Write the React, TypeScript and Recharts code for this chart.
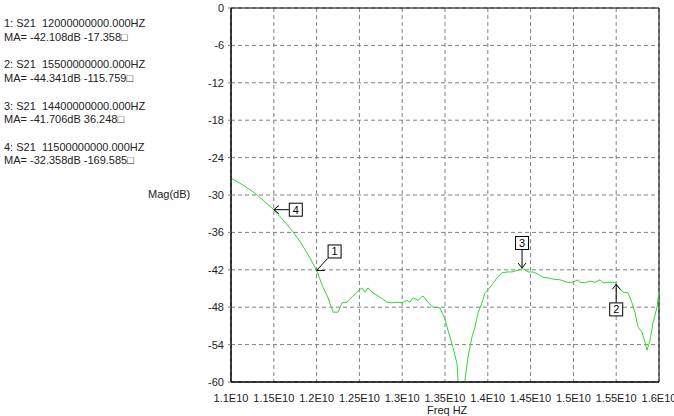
import { LineChart, Line, CartesianGrid, XAxis, YAxis, ReferenceDot, ReferenceArea } from 'recharts';

// frequency in units of 1E10 Hz, magnitude in dB
const freqs = [
    1.1, 1.114, 1.128, 1.1397, 1.15, 1.1607, 1.1724, 1.1818, 1.1923, 1.2,
    1.2075, 1.2133, 1.2192, 1.225, 1.2297, 1.2355, 1.2414, 1.2472, 1.253, 1.2565,
    1.26, 1.2659, 1.2741, 1.2822, 1.2881, 1.2939, 1.2998, 1.3056, 1.3091, 1.3126,
    1.3185, 1.3243, 1.3301, 1.336, 1.3442, 1.35, 1.3535, 1.3594, 1.364, 1.3655,
    1.369, 1.3725, 1.3769, 1.3815, 1.385, 1.3886, 1.3932, 1.3967, 1.4002, 1.4049,
    1.4107, 1.4166, 1.4224, 1.4283, 1.4318, 1.4376, 1.44, 1.447, 1.4528, 1.4587,
    1.4645, 1.4703, 1.4762, 1.4843, 1.4925, 1.4995, 1.5054, 1.5077, 1.5136, 1.5194,
    1.5252, 1.5311, 1.5346, 1.5404, 1.5486, 1.55, 1.5579, 1.5638, 1.5684, 1.572,
    1.5755, 1.5801, 1.5836, 1.586, 1.5895, 1.593, 1.5977, 1.6,
];
const mags = [
    -27.3, -28.4, -29.7, -31.1, -32.36, -34.0, -35.9, -37.7, -40.1, -42.1,
    -44.8, -46.5, -48.8, -48.8, -47.3, -47.2, -46.4, -45.6, -44.9, -45.6,
    -44.9, -45.7, -46.4, -47.2, -47.3, -47.2, -47.3, -46.9, -47.2, -46.5,
    -46.9, -46.2, -47.2, -48.0, -48.1, -50.0, -51.7, -54.5, -57.0, -60.5,
    -63.0, -60.5, -56.0, -52.8, -51.2, -48.9, -47.3, -45.7, -45.2, -44.4,
    -43.3, -42.5, -42.35, -42.35, -42.2, -42.0, -41.7, -42.35, -42.35, -42.7,
    -43.2, -43.3, -43.5, -43.6, -44.0, -44.0, -43.6, -44.0, -44.1, -43.8,
    -44.0, -43.6, -44.1, -44.0, -44.0, -44.34, -45.6, -45.7, -47.3, -48.9,
    -51.2, -52.0, -53.6, -54.9, -53.3, -50.5, -48.0, -45.4,
];

const xTicks = [1.1, 1.15, 1.2, 1.25, 1.3, 1.35, 1.4, 1.45, 1.5, 1.55, 1.6];
const xTickLabels = ['1.1E10', '1.15E10', '1.2E10', '1.25E10', '1.3E10', '1.35E10', '1.4E10', '1.45E10', '1.5E10', '1.55E10', '1.6E10'];
const yTicks = [0, -6, -12, -18, -24, -30, -36, -42, -48, -54, -60];

// markers
const markerIds = [1, 2, 3, 4];
const markerFreqs = [1.2, 1.55, 1.44, 1.15];
const markerMags = [-42.108, -44.341, -41.706, -32.358];
const markerPhases = [-17.358, -115.759, 36.248, -169.585];
const markerStyles = ['diag', 'up', 'down', 'left'];

const data = freqs.map((f, i) => ({ f, mag: mags[i] }));

const FONT = '"Liberation Sans", Arial, sans-serif';

function MarkerShape(props: any) {
    const { cx, cy, id, kind } = props;
    const s = 14;
    let bx = 0, by = 0;
    const lines: any[] = [];
    if (kind === 'left') {
        bx = cx + 15; by = cy - 7;
        lines.push([cx, cy, bx, cy], [cx, cy, cx + 5, cy - 4], [cx, cy, cx + 5, cy + 4]);
    } else if (kind === 'diag') {
        bx = cx + 11; by = cy - 26;
        lines.push([cx, cy, bx, by + s], [cx, cy, cx + 8, cy]);
    } else if (kind === 'down') {
        bx = cx - 7; by = cy - 32;
        lines.push([cx, by + s, cx, cy], [cx, cy, cx - 4, cy - 5], [cx, cy, cx + 4, cy - 5]);
    } else {
        bx = cx - 7; by = cy + 18;
        lines.push([cx, by, cx, cy], [cx, cy, cx - 4, cy + 5], [cx, cy, cx + 4, cy + 5]);
    }
    return (
        <g>
            {lines.map((l, i) => (
                <line key={i} x1={l[0]} y1={l[1]} x2={l[2]} y2={l[3]} stroke="#000" strokeWidth={1} />
            ))}
            <rect x={bx + 0.5} y={by + 0.5} width={s - 1} height={s - 1} fill="#fff" stroke="#000" strokeWidth={1} />
            <text x={bx + s / 2} y={by + s / 2 + 4} textAnchor="middle" fontSize={11} fontFamily={FONT} fill="#000">{id}</text>
        </g>
    );
}

export default function App() {
    return (
        <div style={{ position: 'fixed', left: 0, top: 0, width: 674, height: 416, background: '#fff', fontFamily: FONT }}>
            {markerIds.map((id, i) => (
                <div key={id}>
                    <div style={{ position: 'absolute', left: 4, top: 17 + i * 41.3, fontSize: 11, color: '#222', whiteSpace: 'pre' }}>
                        {`${id}: S21  ${Math.round(markerFreqs[i] * 1e10)}.000HZ`}
                    </div>
                    <div style={{ position: 'absolute', left: 4, top: 30.5 + i * 41.3, fontSize: 11, color: '#222', whiteSpace: 'pre' }}>
                        {`MA= ${markerMags[i].toFixed(3)}dB ${markerPhases[i].toFixed(3)}\u25A1`}
                    </div>
                </div>
            ))}
            <div style={{ position: 'absolute', left: 148, top: 188, fontSize: 11, color: '#222' }}>Mag(dB)</div>
            <div style={{ position: 'absolute', left: 427, top: 404, fontSize: 11, color: '#222' }}>Freq HZ</div>
            <LineChart width={674} height={416} data={data} margin={{ top: 8, right: 15, bottom: 0, left: 0 }}>
                <CartesianGrid strokeDasharray="4 3" stroke="#808080" />
                <XAxis
                    dataKey="f"
                    type="number"
                    domain={[1.1, 1.6]}
                    ticks={xTicks}
                    tickFormatter={(v: number) => xTickLabels[xTicks.indexOf(v)] ?? ''}
                    height={34}
                    tickLine={false}
                    tickMargin={6}
                    axisLine={{ stroke: '#000' }}
                    tick={{ fontSize: 11, fill: '#222', fontFamily: FONT }}
                    interval={0}
                />
                <YAxis
                    type="number"
                    domain={[-60, 0]}
                    ticks={yTicks}
                    allowDataOverflow
                    width={231}
                    tickSize={3}
                    tickMargin={4}
                    tickLine={{ stroke: '#808080' }}
                    axisLine={{ stroke: '#000' }}
                    tick={{ fontSize: 11, fill: '#222', fontFamily: FONT }}
                    interval={0}
                />
                <ReferenceArea x1={1.1} x2={1.6} y1={-60} y2={0} fill="none" stroke="#000" strokeWidth={1} ifOverflow="extendDomain" />
                <Line type="linear" dataKey="mag" stroke="#33d633" strokeWidth={1} dot={false} isAnimationActive={false} />
                {markerIds.map((id, i) => (
                    <ReferenceDot
                        key={id}
                        x={markerFreqs[i]}
                        y={markerMags[i]}
                        shape={(p: any) => <MarkerShape {...p} id={id} kind={markerStyles[i]} />}
                    />
                ))}
            </LineChart>
        </div>
    );
}
